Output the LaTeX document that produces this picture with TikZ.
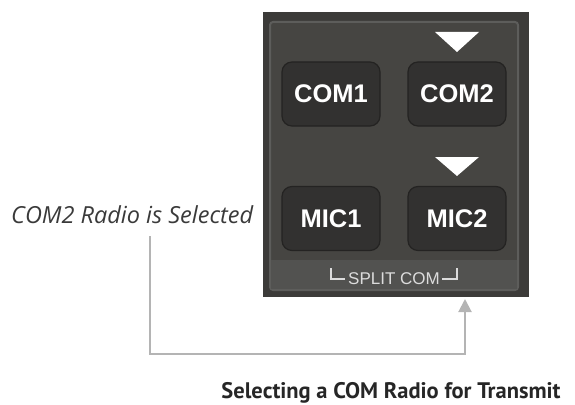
\documentclass[tikz,border=0pt]{standalone}
\usepackage{fontspec}
\setmainfont{Liberation Sans}
\newfontfamily\notefont{Open Sans}
\newfontfamily\titlefont{PT Sans}
\usetikzlibrary{arrows.meta}
\definecolor{panelrim}{HTML}{3C3B39}
\definecolor{panelface}{HTML}{464542}
\definecolor{panelline}{HTML}{5D5D5B}
\definecolor{stripface}{HTML}{525250}
\definecolor{keyface}{HTML}{323130}
\definecolor{keyedge}{HTML}{242322}
\definecolor{linkgray}{HTML}{B4B4B4}
\definecolor{labelgray}{HTML}{DCDCDC}
\definecolor{notegray}{HTML}{3A3A3A}

\begin{document}
\begin{tikzpicture}[x=1pt,y=-1pt,
  key/.style={rectangle,rounded corners=10pt,draw=keyedge,line width=1.2pt,fill=keyface,
    minimum width=98pt,minimum height=64pt,inner sep=0pt,text=white,
    font=\fontsize{25.5}{25.5}\selectfont\bfseries},
  marker/.style={fill=white},
  link/.style={draw=linkgray,line width=2pt,-{Triangle[width=13pt,length=13pt]}}]
  \useasboundingbox (0,0) rectangle (575,404);
  % bezel
  \fill[panelrim] (263,12) rectangle (529,297);
  \draw[panelline,line width=2pt,fill=panelface,rounded corners=3pt] (270,22) rectangle (518,290);
  \fill[stripface] (271,260) rectangle (517,289);
  \node[key] (com1) at (331,94) {COM1};
  \node[key] (com2) at (457,94) {COM2};
  \node[key] (mic1) at (331,218.5) {MIC1};
  \node[key] (mic2) at (457,218.5) {MIC2};
  \fill[marker] (435,32) -- (479,32) -- (457,52) -- cycle;
  \fill[marker] (435,157) -- (479,157) -- (457,176) -- cycle;
  \node[anchor=base,text=labelgray,font=\fontsize{17}{17}\selectfont,inner sep=0pt] (split) at (394,284) {SPLIT COM};
  \draw[labelgray,line width=1.6pt] (331,268) |- (345,279);
  \draw[labelgray,line width=1.6pt] (442,279) -| (457,268);
  % callout
  \node[anchor=base west,inner sep=0pt,text=notegray,font=\notefont\itshape\fontsize{23.5}{23.5}\selectfont] (selected) at (11,223) {COM2 Radio is Selected};
  \coordinate (src) at (150,236);
  \coordinate (dst) at (465,299);
  \draw[link] (src) |- (465,354) -- (dst);
  \node[anchor=base,inner sep=0pt,text=black!85,font=\titlefont\bfseries\fontsize{22.5}{22.5}\selectfont] (caption) at (391,398) {Selecting a COM Radio for Transmit};
\end{tikzpicture}
\end{document}
